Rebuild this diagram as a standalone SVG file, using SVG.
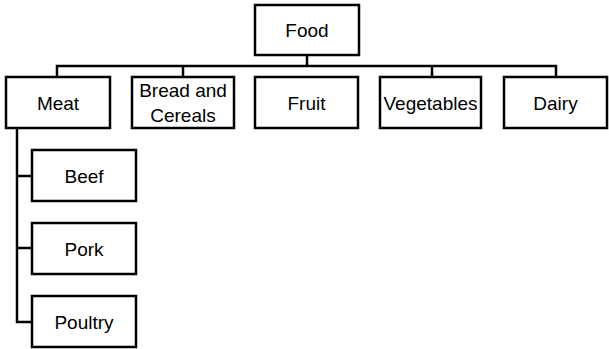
<svg xmlns="http://www.w3.org/2000/svg" width="609" height="349" viewBox="0 0 609 349">
<style>
rect.box{fill:#fff;stroke:#000;stroke-width:2.5}
.conn path{fill:none;stroke:#000;stroke-width:2.5}
text{font-family:"Liberation Sans",Arial,sans-serif;font-size:19px;fill:#000;text-anchor:middle}
</style>
<rect width="609" height="349" fill="#fff"/>
<g class="conn" id="connectors">
<path d="M307 55V66M57 77V66H556V77M183 66V77M432 66V77"/>
<path d="M17 128V322H32M17 176H32M17 248H32"/>
</g>
<g id="food"><rect class="box" x="255" y="5" width="104" height="50"/><text x="307" y="37">Food</text></g>
<g id="meat"><rect class="box" x="6" y="77" width="104" height="51"/><text x="58" y="109.5">Meat</text></g>
<g id="bread"><rect class="box" x="132" y="77" width="102" height="51"/><text x="183" y="97">Bread and</text><text x="183" y="121.5">Cereals</text></g>
<g id="fruit"><rect class="box" x="255" y="77" width="103" height="51"/><text x="306.5" y="109.5">Fruit</text></g>
<g id="vegetables"><rect class="box" x="380" y="77" width="101" height="51"/><text x="430.5" y="109.5">Vegetables</text></g>
<g id="dairy"><rect class="box" x="504" y="77" width="103" height="51"/><text x="555.5" y="109.5">Dairy</text></g>
<g id="beef"><rect class="box" x="32" y="150" width="104" height="51"/><text x="84" y="182.5">Beef</text></g>
<g id="pork"><rect class="box" x="32" y="223" width="104" height="51"/><text x="84" y="255.5">Pork</text></g>
<g id="poultry"><rect class="box" x="32" y="296" width="104" height="51"/><text x="84" y="329">Poultry</text></g>
</svg>
